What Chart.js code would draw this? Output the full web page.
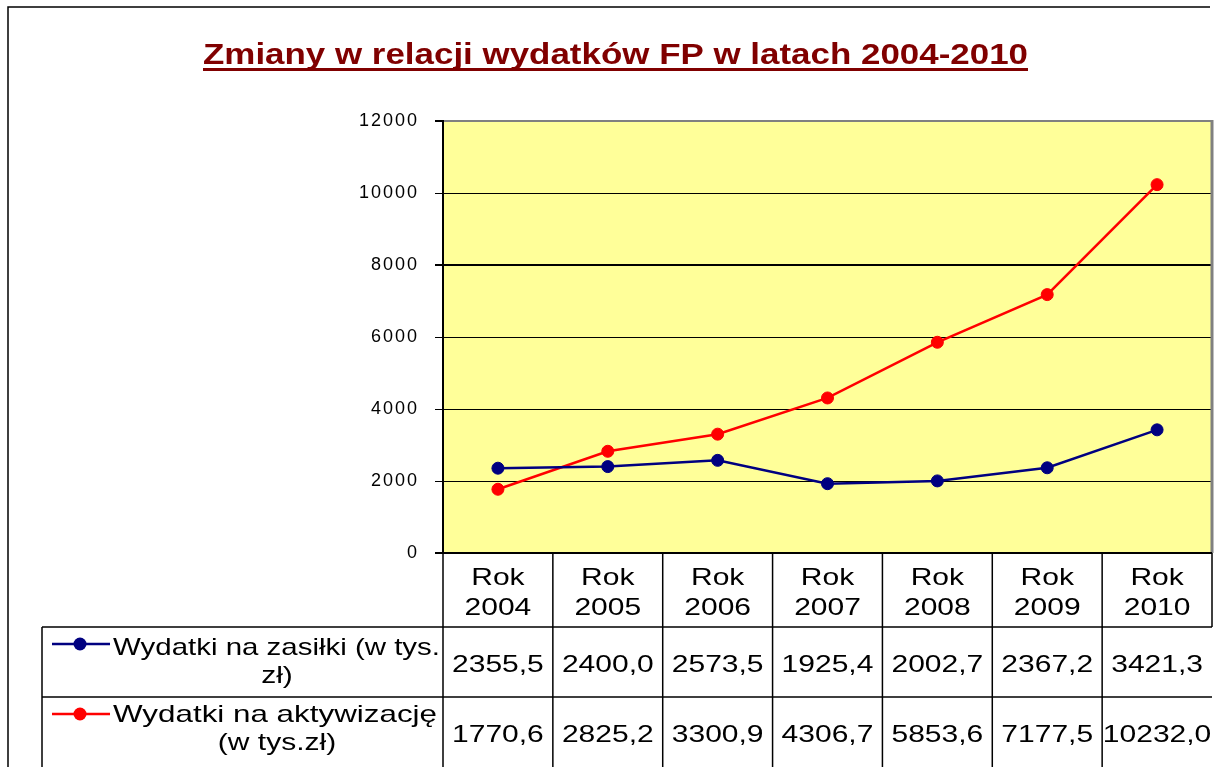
<!DOCTYPE html>
<html>
<head>
<meta charset="utf-8">
<script src="https://cdn.jsdelivr.net/npm/chart.js@4/dist/chart.umd.min.js"></script>
<style>
  html, body { margin: 0; padding: 0; background: #fff; }
  #wrap { width: 1224px; height: 767px; position: relative; }
</style>
</head>
<body>
<div id="wrap"><canvas id="chart" width="1224" height="767"></canvas></div>
<script>
// data
const chartTitle = 'Zmiany w relacji wydatków FP w latach 2004-2010';
const categories = ['Rok 2004', 'Rok 2005', 'Rok 2006', 'Rok 2007', 'Rok 2008', 'Rok 2009', 'Rok 2010'];
const zasilki = [2355.5, 2400.0, 2573.5, 1925.4, 2002.7, 2367.2, 3421.3];
const aktywizacja = [1770.6, 2825.2, 3300.9, 4306.7, 5853.6, 7177.5, 10232.0];
const seriesLabels = [
    ['Wydatki na zasiłki (w tys.', 'zł)'],
    ['Wydatki na aktywizację', '(w tys.zł)']
];
const yMax = 12000;
const yStep = 2000;

const FONT = '"Liberation Sans", Arial, sans-serif';
const STRETCH = 1.25; // the original picture is wider than it is tall

function fmt(v) {
    return v.toFixed(1).replace('.', ',');
}

// draws text squeezed/stretched horizontally
function stretchText(ctx, text, x, y, align, sx) {
    const w = ctx.measureText(text).width * sx;
    let left = x;
    if (align === 'center') left = x - w / 2;
    else if (align === 'right') left = x - w;
    ctx.save();
    ctx.translate(left, y);
    ctx.scale(sx, 1);
    ctx.textAlign = 'left';
    ctx.fillText(text, 0, 0);
    ctx.restore();
}

const backgroundPlugin = {
    id: 'plotBackground',
    beforeDraw(chart) {
        const { ctx, chartArea: a } = chart;
        ctx.save();
        ctx.fillStyle = '#ffffff';
        ctx.fillRect(0, 0, chart.width, chart.height);
        ctx.fillStyle = '#ffff99';
        ctx.fillRect(a.left, a.top, a.right - a.left, a.bottom - a.top);
        ctx.restore();
        // tick labels in the picture are wide
        ctx.letterSpacing = '2px';
    }
};

const tablePlugin = {
    id: 'dataTable',
    afterDraw(chart) {
        const { ctx, chartArea: a } = chart;
        const xs = chart.scales.x;
        ctx.save();
        ctx.letterSpacing = '0px';

        // right gray border of plot
        ctx.strokeStyle = '#808080';
        ctx.lineWidth = 3;
        ctx.beginPath();
        ctx.moveTo(a.right, a.top - 1);
        ctx.lineTo(a.right, a.bottom);
        ctx.stroke();

        // bottom axis line
        ctx.strokeStyle = '#000';
        ctx.lineWidth = 2;
        ctx.beginPath();
        ctx.moveTo(a.left - 8, a.bottom);
        ctx.lineTo(a.right, a.bottom);
        ctx.stroke();

        // outer frame
        ctx.lineWidth = 1.5;
        ctx.beginPath();
        ctx.moveTo(8, 767);
        ctx.lineTo(8, 7);
        ctx.lineTo(1210, 7);
        ctx.stroke();

        // title
        ctx.fillStyle = '#800000';
        ctx.font = 'bold 29px ' + FONT;
        ctx.textBaseline = 'alphabetic';
        const tw = ctx.measureText(chartTitle).width;
        const tLeft = 203, tRight = 1028;
        stretchText(ctx, chartTitle, tLeft, 64, 'left', (tRight - tLeft) / tw);
        ctx.fillRect(tLeft, 68, tRight - tLeft, 3);

        // table grid
        const n = categories.length;
        const bounds = [a.left];
        for (let i = 1; i < n; i++) {
            bounds.push((xs.getPixelForValue(i - 1) + xs.getPixelForValue(i)) / 2);
        }
        bounds.push(a.right);

        const headBottom = 627, row1Bottom = 697, tableLeft = 42;
        ctx.strokeStyle = '#000';
        ctx.lineWidth = 1.5;
        ctx.beginPath();
        bounds.forEach((bx, i) => {
            if (i === n) {
                ctx.moveTo(bx, a.bottom);
                ctx.lineTo(bx, headBottom);
            } else {
                ctx.moveTo(bx, a.bottom);
                ctx.lineTo(bx, 767);
            }
        });
        ctx.moveTo(tableLeft, headBottom);
        ctx.lineTo(a.right, headBottom);
        ctx.moveTo(tableLeft, row1Bottom);
        ctx.lineTo(a.right, row1Bottom);
        ctx.moveTo(tableLeft, headBottom);
        ctx.lineTo(tableLeft, 767);
        ctx.stroke();

        // header cells
        ctx.fillStyle = '#000';
        ctx.font = '24px ' + FONT;
        categories.forEach((c, i) => {
            const cx = xs.getPixelForValue(i);
            const parts = c.split(' ');
            stretchText(ctx, parts[0], cx, 585, 'center', STRETCH);
            stretchText(ctx, parts[1], cx, 615, 'center', STRETCH);
        });

        // value rows + legend keys
        const rowBase = [672, 742];
        const legendY = [644, 714];
        const legendBase = [[655, 683], [722, 750]];
        const legendRight = [440, 437];
        chart.data.datasets.forEach((ds, r) => {
            ds.data.forEach((v, i) => {
                stretchText(ctx, fmt(v), xs.getPixelForValue(i), rowBase[r], 'center', STRETCH);
            });
            // key
            ctx.strokeStyle = ds.borderColor;
            ctx.lineWidth = 2.5;
            ctx.beginPath();
            ctx.moveTo(52, legendY[r]);
            ctx.lineTo(110, legendY[r]);
            ctx.stroke();
            ctx.fillStyle = ds.pointBackgroundColor;
            ctx.beginPath();
            ctx.arc(80, legendY[r], 6.5, 0, Math.PI * 2);
            ctx.fill();
            ctx.fillStyle = '#000';
            const first = seriesLabels[r][0];
            const fw = ctx.measureText(first).width;
            stretchText(ctx, first, 113, legendBase[r][0], 'left', (legendRight[r] - 113) / fw);
            stretchText(ctx, seriesLabels[r][1], 277, legendBase[r][1], 'center', STRETCH);
        });
        ctx.restore();
    }
};

const ctx = document.getElementById('chart').getContext('2d');
new Chart(ctx, {
    type: 'line',
    data: {
        labels: categories,
        datasets: [{
            label: seriesLabels[0].join(' '),
            data: zasilki,
            borderColor: '#000080',
            backgroundColor: '#000080',
            pointBackgroundColor: '#000080',
            pointBorderColor: '#000080',
            borderWidth: 2.5,
            pointRadius: 6,
            pointBorderWidth: 1,
            tension: 0
        }, {
            label: seriesLabels[1].join(' '),
            data: aktywizacja,
            borderColor: '#ff0000',
            backgroundColor: '#ff0000',
            pointBackgroundColor: '#ff0000',
            pointBorderColor: '#ff0000',
            borderWidth: 2.5,
            pointRadius: 6,
            pointBorderWidth: 1,
            tension: 0
        }]
    },
    options: {
        responsive: false,
        animation: false,
        layout: { padding: { left: 0, top: 121, right: 12, bottom: 214 } },
        plugins: {
            legend: { display: false },
            title: { display: false },
            tooltip: { enabled: false }
        },
        scales: {
            x: {
                display: false,
                offset: true
            },
            y: {
                min: 0,
                max: yMax,
                afterFit: (s) => { s.width = 443; },
                border: { display: true, color: '#000', width: 2 },
                grid: {
                    color: (c) => c.tick && c.tick.value === yMax ? '#808080' : '#000',
                    lineWidth: (c) => c.tick && (c.tick.value === yMax || c.tick.value === 8000) ? 2 : 1,
                    tickColor: '#000',
                    tickLength: 8
                },
                ticks: {
                    stepSize: yStep,
                    padding: 16,
                    color: '#000',
                    font: { family: FONT, size: 18 },
                    callback: (v) => String(v)
                }
            }
        }
    },
    plugins: [backgroundPlugin, tablePlugin]
});
</script>
</body>
</html>
